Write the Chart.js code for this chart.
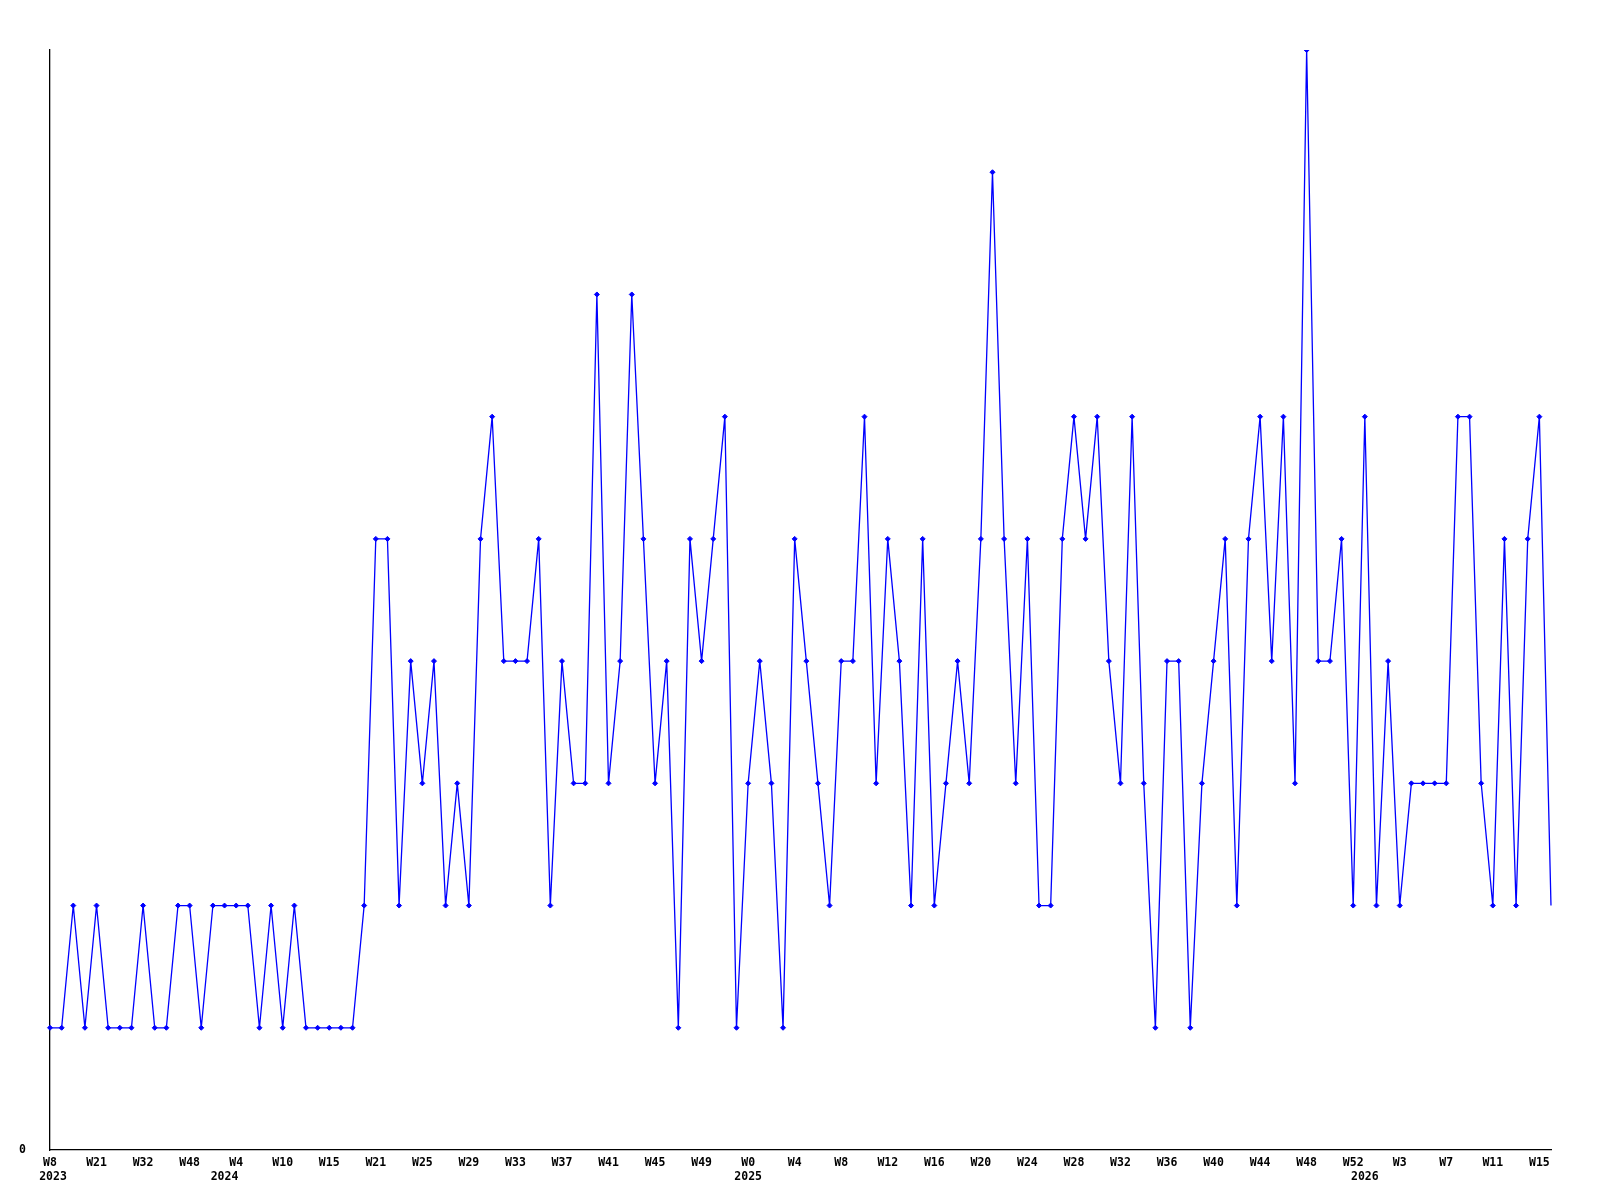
<!DOCTYPE html>
<html>
<head>
<meta charset="utf-8">
<script src="https://cdn.jsdelivr.net/npm/chart.js@4"></script>
<style>
  html, body { margin: 0; padding: 0; background: #fff; }
  canvas { display: block; }
</style>
</head>
<body>
<canvas id="chart" width="1600" height="1200"></canvas>
<script>
// one point per week, "year-week"
const weeks = [
    '2023-W8', '2023-W11', '2023-W14', '2023-W18', '2023-W21', '2023-W24', '2023-W27', '2023-W29',
    '2023-W32', '2023-W36', '2023-W40', '2023-W44', '2023-W48', '2023-W50', '2023-W51',
    '2024-W1', '2024-W4', '2024-W5', '2024-W7', '2024-W8', '2024-W10', '2024-W11', '2024-W12', '2024-W14',
    '2024-W15', '2024-W16', '2024-W18', '2024-W19', '2024-W21', '2024-W22', '2024-W23', '2024-W24',
    '2024-W25', '2024-W26', '2024-W27', '2024-W28', '2024-W29', '2024-W30', '2024-W31', '2024-W32',
    '2024-W33', '2024-W34', '2024-W35', '2024-W36', '2024-W37', '2024-W38', '2024-W39', '2024-W40',
    '2024-W41', '2024-W42', '2024-W43', '2024-W44', '2024-W45', '2024-W46', '2024-W47', '2024-W48',
    '2024-W49', '2024-W50', '2024-W51', '2024-W52',
    '2025-W0', '2025-W1', '2025-W2', '2025-W3', '2025-W4', '2025-W5', '2025-W6', '2025-W7',
    '2025-W8', '2025-W9', '2025-W10', '2025-W11', '2025-W12', '2025-W13', '2025-W14', '2025-W15',
    '2025-W16', '2025-W17', '2025-W18', '2025-W19', '2025-W20', '2025-W21', '2025-W22', '2025-W23',
    '2025-W24', '2025-W25', '2025-W26', '2025-W27', '2025-W28', '2025-W29', '2025-W30', '2025-W31',
    '2025-W32', '2025-W33', '2025-W34', '2025-W35', '2025-W36', '2025-W37', '2025-W38', '2025-W39',
    '2025-W40', '2025-W41', '2025-W42', '2025-W43', '2025-W44', '2025-W45', '2025-W46', '2025-W47',
    '2025-W48', '2025-W49', '2025-W50', '2025-W51', '2025-W52',
    '2026-W0', '2026-W1', '2026-W2', '2026-W3', '2026-W4', '2026-W5', '2026-W6',
    '2026-W7', '2026-W8', '2026-W9', '2026-W10', '2026-W11', '2026-W12', '2026-W13', '2026-W14',
    '2026-W15', '2026-W16'
];

const counts = [
    1, 1, 2, 1, 2, 1, 1, 1, 2, 1, 1, 2, 2, 1, 2, 2,
    2, 2, 1, 2, 1, 2, 1, 1, 1, 1, 1, 2, 5, 5, 2, 4,
    3, 4, 2, 3, 2, 5, 6, 4, 4, 4, 5, 2, 4, 3, 3, 7,
    3, 4, 7, 5, 3, 4, 1, 5, 4, 5, 6, 1, 3, 4, 3, 1,
    5, 4, 3, 2, 4, 4, 6, 3, 5, 4, 2, 5, 2, 3, 4, 3,
    5, 8, 5, 3, 5, 2, 2, 5, 6, 5, 6, 4, 3, 6, 3, 1,
    4, 4, 1, 3, 4, 5, 2, 5, 6, 4, 6, 3, 9, 4, 4, 5,
    2, 6, 2, 4, 2, 3, 3, 3, 3, 6, 6, 3, 2, 5, 2, 5,
    6, 2
];

const FONT = { family: '"DejaVu Sans Mono", monospace', size: 11.5, weight: 'bold' };
const BLUE = '#0000ff';

// year under the first week of each year
const yearLabels = {
    id: 'yearLabels',
    afterDraw(chart) {
        const x = chart.scales.x;
        const ctx = chart.ctx;
        ctx.save();
        ctx.font = `bold ${FONT.size}px ${FONT.family}`;
        ctx.fillStyle = '#000';
        ctx.textAlign = 'center';
        ctx.textBaseline = 'middle';
        let last = null;
        weeks.forEach((w, i) => {
            const year = w.split('-')[0];
            if (year !== last) {
                const px = Math.max(x.getPixelForValue(i), 53);
                ctx.fillText(year, px, chart.chartArea.bottom + 27);
                last = year;
            }
        });
        ctx.restore();
    }
};

const lastIdx = counts.length - 1;

new Chart(document.getElementById('chart'), {
    type: 'line',
    data: {
        labels: weeks,
        datasets: [{
            data: counts,
            borderColor: BLUE,
            backgroundColor: BLUE,
            borderWidth: 1.3,
            tension: 0,
            fill: false,
            pointStyle: 'rectRot',
            pointRadius: counts.map((_, i) => i === lastIdx ? 0 : 2.5),
            pointBorderWidth: 1,
            pointBackgroundColor: BLUE,
            pointBorderColor: BLUE
        }]
    },
    options: {
        responsive: false,
        animation: false,
        layout: { padding: { top: 50, right: 49, bottom: 10, left: 0 } },
        plugins: {
            legend: { display: false },
            tooltip: { enabled: false }
        },
        scales: {
            x: {
                offset: false,
                grid: { display: false, drawTicks: false },
                border: { display: true, color: '#000', width: 1.3 },
                afterFit: s => { s.height = 40; },
                ticks: {
                    autoSkip: false,
                    maxRotation: 0,
                    minRotation: 0,
                    padding: 6,
                    color: '#000',
                    font: FONT,
                    callback: (v, i) => i % 4 === 0 ? weeks[i].split('-')[1] : null
                }
            },
            y: {
                min: 0,
                max: 9,
                grid: { display: false, drawTicks: false },
                border: { display: true, color: '#000', width: 1.3 },
                afterFit: s => { s.width = 50; },
                ticks: {
                    stepSize: 9,
                    padding: 24,
                    color: '#000',
                    font: FONT,
                    callback: v => v === 0 ? '0' : ''
                }
            }
        }
    },
    plugins: [yearLabels]
});
</script>
</body>
</html>
